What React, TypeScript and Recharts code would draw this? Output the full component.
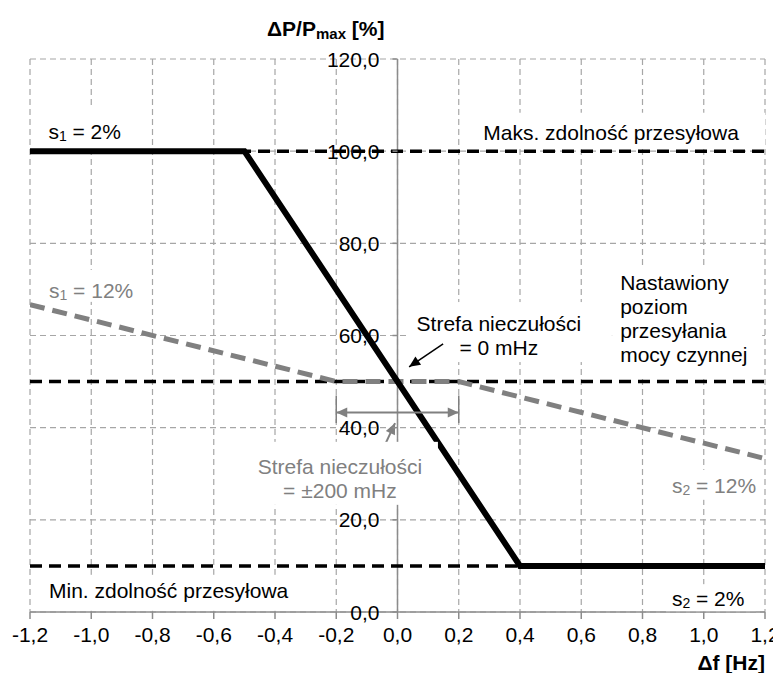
import React from 'react';
import {
  ComposedChart,
  Line,
  XAxis,
  YAxis,
  CartesianGrid,
  ReferenceLine,
  ReferenceDot,
} from 'recharts';

// osie: częstotliwość [Hz] i moc [%]
const xTicks = [-1.2, -1.0, -0.8, -0.6, -0.4, -0.2, 0, 0.2, 0.4, 0.6, 0.8, 1.0, 1.2];
const yTicks = [0, 20, 40, 60, 80, 100, 120];

// statyzm 2% (czarna linia ciągła)
const droop2Hz = [-1.2, -0.5, 0.4, 1.2];
const droop2Pct = [100, 100, 10, 10];

// statyzm 12% ze strefą nieczułości ±200 mHz (szara przerywana)
const droop12Hz = [-1.2, -0.2, 0.2, 1.2];
const droop12Pct = [66.7, 50, 50, 33.3];

// poziomy odniesienia (czarne przerywane)
const levelHz = [-1.2, 1.2];
const maxPct = 100;
const setPct = 50;
const minPct = 10;

// strefa nieczułości ±200 mHz - linia wymiarowa
const deadbandHz = [-0.2, 0.2];
const deadbandArrowPct = 43.3;
const deadbandExtPct = [47, 41];

// strzałki opisów
const zeroArrowHz = [0.149, 0.038];
const zeroArrowPct = [58.2, 53.2];
const bandArrowHz = [-0.038, -0.008];
const bandArrowPct = [36.7, 41.0];

const FONT = 21;
const GRAY = '#808080';
const AXIS = '#8c8c8c';

type Box = [number, number, number, number];

const fmt = (v: number) => v.toFixed(1).replace('.', ',');
const toPoints = (xs: number[], ys: number[]) => xs.map((f, i) => ({ f, p: ys[i] }));

const sub = (base: string, idx: string, rest: string) => (
  <>
    <tspan>{base}</tspan>
    <tspan fontSize={14} dy={5}>{idx}</tspan>
    <tspan dy={-5}>{rest}</tspan>
  </>
);

// pole tekstowe z białym tłem (jak w Excelu)
const note = (
  lines: React.ReactNode[],
  color: string,
  anchor: 'start' | 'middle',
  boxes: Box[]
) => (props: any) => {
  const { cx, cy } = props;
  return (
    <g>
      {boxes.map(([l, t, r, b], i) => (
        <rect key={i} x={cx + l} y={cy + t} width={r - l} height={b - t} fill="#fff" />
      ))}
      {lines.map((ln, i) => (
        <text
          key={i}
          x={cx}
          y={cy + i * 24}
          fill={color}
          fontSize={FONT}
          textAnchor={anchor}
          dominantBaseline="central"
        >
          {ln}
        </text>
      ))}
    </g>
  );
};

const arrowHead = (xa: number, ya: number, xb: number, yb: number, color: string, len = 11, w = 5) => {
  const a = Math.atan2(yb - ya, xb - xa);
  const c = Math.cos(a);
  const s = Math.sin(a);
  const bx = xb - len * c;
  const by = yb - len * s;
  return (
    <polygon
      points={`${xb},${yb} ${bx - w * s},${by + w * c} ${bx + w * s},${by - w * c}`}
      fill={color}
    />
  );
};

const arrow = (color: string, width: number, both = false) => (props: any) => {
  const { x1, y1, x2, y2 } = props;
  return (
    <g>
      <line x1={x1} y1={y1} x2={x2} y2={y2} stroke={color} strokeWidth={width} />
      {arrowHead(x1, y1, x2, y2, color)}
      {both && arrowHead(x2, y2, x1, y1, color)}
    </g>
  );
};

const yTickLabel = (label: string) => (props: any) => {
  const { cx, cy } = props;
  return (
    <g>
      <line x1={cx - 5} y1={cy} x2={cx} y2={cy} stroke={AXIS} strokeWidth={1.5} />
      <text x={cx - 18} y={cy} fontSize={FONT} fill="#000" textAnchor="end" dominantBaseline="central">
        {label}
      </text>
    </g>
  );
};

export default function App() {
  const droop2 = toPoints(droop2Hz, droop2Pct);
  const droop12 = toPoints(droop12Hz, droop12Pct);
  const maxLine = toPoints(levelHz, levelHz.map(() => maxPct));
  const setLine = toPoints(levelHz, levelHz.map(() => setPct));
  const minLine = toPoints(levelHz, levelHz.map(() => minPct));

  return (
    <div style={{ fontFamily: '"Liberation Sans", Arial, sans-serif', width: 773, height: 665 }}>
      <ComposedChart width={773} height={665} margin={{ top: 51, right: 16, left: 22, bottom: 0 }}>
        <CartesianGrid stroke="#a6a6a6" strokeWidth={1.2} strokeDasharray="6 4" />
        <XAxis
          type="number"
          dataKey="f"
          domain={[-1.2, 1.2]}
          ticks={xTicks}
          interval={0}
          allowDataOverflow
          height={61}
          tickSize={7}
          tickMargin={8}
          tickFormatter={fmt}
          tick={{ fill: '#000', fontSize: FONT }}
          axisLine={{ stroke: AXIS, strokeWidth: 1.5 }}
          tickLine={{ stroke: AXIS, strokeWidth: 1.5 }}
        />
        <YAxis type="number" dataKey="p" domain={[0, 120]} ticks={yTicks} hide allowDataOverflow />

        {/* oś Y przechodząca przez 0 Hz */}
        <ReferenceLine x={0} stroke={AXIS} strokeWidth={1.5} />

        <Line data={maxLine} dataKey="p" stroke="#000" strokeWidth={3.5} strokeDasharray="12 7" dot={false} isAnimationActive={false} />
        <Line data={setLine} dataKey="p" stroke="#000" strokeWidth={3.5} strokeDasharray="12 7" dot={false} isAnimationActive={false} />
        <Line data={minLine} dataKey="p" stroke="#000" strokeWidth={3.5} strokeDasharray="12 7" dot={false} isAnimationActive={false} />
        <Line data={droop12} dataKey="p" stroke={GRAY} strokeWidth={5} strokeDasharray="15 8" dot={false} isAnimationActive={false} />
        <Line data={droop2} dataKey="p" stroke="#000" strokeWidth={6} dot={false} isAnimationActive={false} />

        {/* linia wymiarowa strefy ±200 mHz */}
        {deadbandHz.map((f) => (
          <ReferenceLine
            key={f}
            segment={[{ x: f, y: deadbandExtPct[0] }, { x: f, y: deadbandExtPct[1] }]}
            stroke={GRAY}
            strokeWidth={1.5}
          />
        ))}
        <ReferenceLine
          segment={[{ x: deadbandHz[0], y: deadbandArrowPct }, { x: deadbandHz[1], y: deadbandArrowPct }]}
          shape={arrow(GRAY, 2, true)}
        />

        {/* opisy z białym tłem */}
        <ReferenceDot x={-1.14} y={104.4} r={0} shape={note([sub('s', '1', ' = 2%')], '#000', 'start', [[-8, -23, 82, 15]])} />
        <ReferenceDot x={0.28} y={104.0} r={0} shape={note(['Maks. zdolność przesyłowa'], '#000', 'start', [[-6, -20, 282, 14]])} />
        <ReferenceDot x={-1.138} y={69.9} r={0} shape={note([sub('s', '1', ' = 12%')], GRAY, 'start', [[-8, -20, 92, 12]])} />
        <ReferenceDot
          x={0.727}
          y={71.4}
          r={0}
          shape={note(['Nastawiony', 'poziom', 'przesyłania', 'mocy czynnej'], '#000', 'start', [[-8, -15, 142, 95]])}
        />
        <ReferenceDot
          x={0.331}
          y={62.7}
          r={0}
          shape={note(['Strefa nieczułości', '= 0 mHz'], '#000', 'middle', [
            [-92, -21, 113, 15],
            [-46, 15, 113, 39],
          ])}
        />
        <ReferenceDot
          x={-0.188}
          y={31.5}
          r={0}
          shape={note(['Strefa nieczułości', '= ±200 mHz'], GRAY, 'middle', [[-85, -25, 98, 38]])}
        />
        <ReferenceDot x={0.896} y={27.6} r={0} shape={note([sub('s', '2', ' = 12%')], GRAY, 'start', [[-6, -15, 92, 15]])} />
        <ReferenceDot x={-1.138} y={4.6} r={0} shape={note(['Min. zdolność przesyłowa'], '#000', 'start', [[-8, -16, 255, 20]])} />
        <ReferenceDot x={0.896} y={3.0} r={0} shape={note([sub('s', '2', ' = 2%')], '#000', 'start', [[-6, -14, 84, 13]])} />

        {/* strzałki */}
        <ReferenceLine
          segment={[{ x: zeroArrowHz[0], y: zeroArrowPct[0] }, { x: zeroArrowHz[1], y: zeroArrowPct[1] }]}
          shape={arrow('#000', 1.5)}
        />
        <ReferenceLine
          segment={[{ x: bandArrowHz[0], y: bandArrowPct[0] }, { x: bandArrowHz[1], y: bandArrowPct[1] }]}
          shape={arrow(GRAY, 2)}
        />

        {/* etykiety osi Y przy 0 Hz */}
        {yTicks.map((t) => (
          <ReferenceDot key={t} x={0} y={t} r={0} shape={yTickLabel(fmt(t))} />
        ))}

        {/* tytuły osi */}
        <ReferenceDot
          x={0}
          y={120}
          r={0}
          shape={(p: any) => (
            <text x={p.cx - 13} y={p.cy - 31} fontSize={FONT} fontWeight="bold" textAnchor="end" dominantBaseline="central">
              <tspan>ΔP/P</tspan>
              <tspan fontSize={15} dy={5}>max</tspan>
              <tspan dy={-5}> [%]</tspan>
            </text>
          )}
        />
        <ReferenceDot
          x={1.2}
          y={0}
          r={0}
          shape={(p: any) => (
            <text x={p.cx} y={p.cy + 50} fontSize={FONT} fontWeight="bold" textAnchor="end" dominantBaseline="central">
              Δf [Hz]
            </text>
          )}
        />
      </ComposedChart>
    </div>
  );
}
